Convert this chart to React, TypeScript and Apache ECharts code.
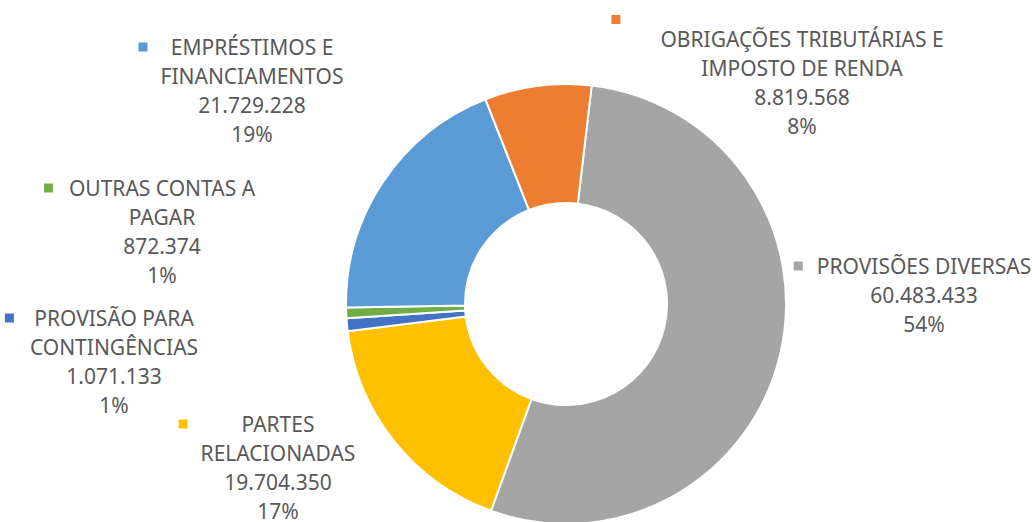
import React, { useEffect, useRef } from 'react';
import * as echarts from 'echarts';

// ---- data ----
const categories = [
  'PROVISÕES DIVERSAS',
  'PARTES\nRELACIONADAS',
  'PROVISÃO PARA\nCONTINGÊNCIAS',
  'OUTRAS CONTAS A\nPAGAR',
  'EMPRÉSTIMOS E\nFINANCIAMENTOS',
  'OBRIGAÇÕES TRIBUTÁRIAS E\nIMPOSTO DE RENDA',
];
const values = [60483433, 19704350, 1071133, 872374, 21729228, 8819568];
const colors = ['#A5A5A5', '#FFC000', '#4472C4', '#70AD47', '#5B9BD5', '#ED7D31'];

// ---- label layout (text centre x, first text line centre y, key offset, key on its own line) ----
const labelCenterX = [924, 278, 114, 162, 252, 802];
const labelFirstLineY = [266, 424, 318, 188, 47, 39];
const keyOffset = [23, 22, 25, 25, 22, 49];
const keyOwnLine = [false, false, false, false, false, true];

const FONT = '"Noto Sans", sans-serif';
const FONT_SIZE = 21;
const LINE_H = 29;
const KEY = 9;

const total = values.reduce((a, b) => a + b, 0);
const fmtNum = (v: number) => String(v).replace(/\B(?=(\d{3})+(?!\d))/g, '.');
const fmtPct = (v: number) => Math.round((v / total) * 100) + '%';

export default function App() {
  const ref = useRef<HTMLDivElement>(null);

  useEffect(() => {
    if (!ref.current) return;
    const chart = echarts.init(ref.current, undefined, { renderer: 'svg' });

    const rich: Record<string, any> = {
      t: {
        fontFamily: FONT,
        fontSize: FONT_SIZE,
        color: '#595959',
        lineHeight: LINE_H,
        align: 'center',
      },
    };
    colors.forEach((c, i) => {
      rich['k' + i] = {
        width: KEY,
        height: KEY,
        backgroundColor: c,
        align: 'left',
        lineHeight: keyOwnLine[i] ? 10 : LINE_H,
      };
      rich['g' + i] = { width: keyOffset[i] - KEY, height: KEY, align: 'left', lineHeight: LINE_H };
      rich['s' + i] = { width: keyOffset[i], height: KEY, align: 'left', lineHeight: LINE_H };
    });

    chart.setOption({
      animation: false,
      backgroundColor: '#ffffff',
      series: [
        {
          type: 'pie',
          center: [566, 304],
          radius: [101, 220],
          startAngle: 83.3,
          clockwise: true,
          avoidLabelOverlap: false,
          percentPrecision: 0,
          itemStyle: { borderColor: '#ffffff', borderWidth: 2 },
          emphasis: { disabled: true, scale: false },
          labelLine: { show: false },
          label: {
            show: true,
            position: 'inside',
            overflow: 'none',
            fontFamily: FONT,
            fontSize: FONT_SIZE,
            color: '#595959',
            textBorderWidth: 0,
            formatter: (p: any) => {
              const i = p.dataIndex;
              const textLines = [...categories[i].split('\n'), fmtNum(values[i]), fmtPct(values[i])];
              const out: string[] = [];
              if (keyOwnLine[i]) out.push(`{k${i}|}`);
              textLines.forEach((t, j) => {
                if (j === 0 && !keyOwnLine[i]) out.push(`{k${i}|}{g${i}|}{t|${t}}`);
                else out.push(`{s${i}|}{t|${t}}`);
              });
              return out.join('\n');
            },
            rich,
          },
          labelLayout: (params: any) => {
            const i = params.dataIndex;
            const y = labelFirstLineY[i] - LINE_H / 2 - (keyOwnLine[i] ? 10 : 0);
            return {
              x: labelCenterX[i] - keyOffset[i] / 2,
              y,
              align: 'center',
              verticalAlign: 'top',
            };
          },
          data: categories.map((name, i) => ({
            name,
            value: values[i],
            itemStyle: { color: colors[i] },
          })),
        },
      ],
    });

    return () => chart.dispose();
  }, []);

  return (
    <div
      ref={ref}
      style={{ position: 'absolute', left: 0, top: 0, width: 1032, height: 522, background: '#fff' }}
    />
  );
}
